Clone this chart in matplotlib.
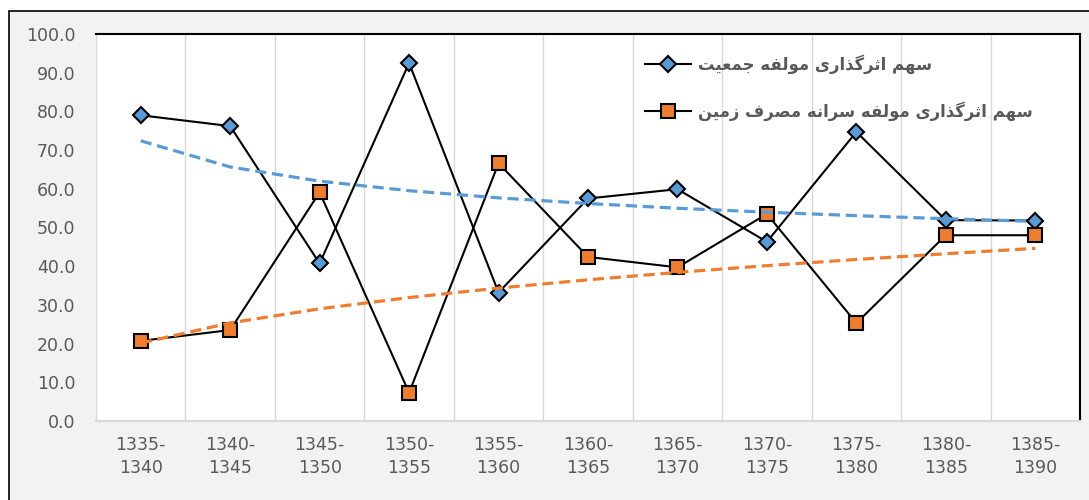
#!/usr/bin/env python3
# -*- coding: utf-8 -*-

import numpy as np
import matplotlib
matplotlib.use('agg')
import matplotlib.pyplot as plt
from matplotlib.patches import Rectangle

periods = ["1335-\n1340", "1340-\n1345", "1345-\n1350", "1350-\n1355",
           "1355-\n1360", "1360-\n1365", "1365-\n1370", "1370-\n1375",
           "1375-\n1380", "1380-\n1385", "1385-\n1390"]
population = [79.0, 76.2, 40.7, 92.5, 33.2, 57.5, 59.9, 46.3, 74.7, 51.9, 51.8]
land_use = [20.7, 23.5, 59.1, 7.3, 66.6, 42.4, 39.7, 53.5, 25.3, 48.0, 48.0]
labels = ["سهم اثرگذاری مولفه جمعیت",
          "سهم اثرگذاری مولفه سرانه مصرف زمین"]
y_ticks = [0, 10, 20, 30, 40, 50, 60, 70, 80, 90, 100]

# Arabic presentation forms: isolated, final, initial, medial
FORMS = {
    'ا': (0xFE8D, 0xFE8E, None, None),
    'ت': (0xFE95, 0xFE96, 0xFE97, 0xFE98),
    'ث': (0xFE99, 0xFE9A, 0xFE9B, 0xFE9C),
    'ج': (0xFE9D, 0xFE9E, 0xFE9F, 0xFEA0),
    'ذ': (0xFEAB, 0xFEAC, None, None),
    'ر': (0xFEAD, 0xFEAE, None, None),
    'ز': (0xFEAF, 0xFEB0, None, None),
    'س': (0xFEB1, 0xFEB2, 0xFEB3, 0xFEB4),
    'ص': (0xFEB9, 0xFEBA, 0xFEBB, 0xFEBC),
    'ع': (0xFEC9, 0xFECA, 0xFECB, 0xFECC),
    'ف': (0xFED1, 0xFED2, 0xFED3, 0xFED4),
    'ل': (0xFEDD, 0xFEDE, 0xFEDF, 0xFEE0),
    'م': (0xFEE1, 0xFEE2, 0xFEE3, 0xFEE4),
    'ن': (0xFEE5, 0xFEE6, 0xFEE7, 0xFEE8),
    'ه': (0xFEE9, 0xFEEA, 0xFEEB, 0xFEEC),
    'و': (0xFEED, 0xFEEE, None, None),
    'گ': (0xFB92, 0xFB93, 0xFB94, 0xFB95),
    'ی': (0xFBFC, 0xFBFD, 0xFBFE, 0xFBFF),
}
RIGHT_ONLY = set('اذرزو')


def shape_rtl(text):
    # matplotlib has no text shaping, so join letters by hand
    out = []
    for i, ch in enumerate(text):
        if ch not in FORMS:
            out.append(ch)
            continue
        prev = text[i - 1] if i > 0 else ''
        nxt = text[i + 1] if i < len(text) - 1 else ''
        join_prev = prev in FORMS and prev not in RIGHT_ONLY
        join_next = ch not in RIGHT_ONLY and nxt in FORMS
        iso, fin, ini, med = FORMS[ch]
        if join_prev and join_next:
            code = med
        elif join_prev:
            code = fin
        elif join_next:
            code = ini
        else:
            code = iso
        out.append(chr(code))
    return ''.join(reversed(out))


def power_trend(x, y):
    b, a = np.polyfit(np.log(x), np.log(y), 1)
    return np.exp(a) * x ** b


x = np.arange(1, len(periods) + 1)
text_color = '#595959'

fig = plt.figure(figsize=(10.89, 5.0), dpi=100)
fig.patch.set_facecolor('white')
fig.patches.append(Rectangle((9 / 1089, -0.1), 1.2, 1 - 11 / 500 + 0.1,
                             transform=fig.transFigure, facecolor='#f2f2f2',
                             edgecolor='black', linewidth=1.2, zorder=-1))

ax = fig.add_axes((96 / 1089, 79 / 500, 984 / 1089, 387 / 500))
ax.set_facecolor('white')

ax.plot(x, population, color='black', linewidth=1.5, marker='D',
        markersize=8, markerfacecolor='#5b9bd5', markeredgecolor='black',
        markeredgewidth=1.5, zorder=3, label=shape_rtl(labels[0]))
ax.plot(x, land_use, color='black', linewidth=1.5, marker='s',
        markersize=10, markerfacecolor='#ed7d31', markeredgecolor='black',
        markeredgewidth=1.5, zorder=3, label=shape_rtl(labels[1]))

ax.plot(x, power_trend(x, population), color='#5b9bd5', linewidth=2.3,
        linestyle=(0, (3.5, 1.8)), zorder=4)
ax.plot(x, power_trend(x, land_use), color='#ed7d31', linewidth=2.3,
        linestyle=(0, (3.5, 1.8)), zorder=4)

ax.set_xlim(0.5, len(periods) + 0.5)
ax.set_ylim(0, 100)
ax.set_yticks(y_ticks)
ax.set_yticklabels(["%.1f" % v for v in y_ticks])
ax.set_xticks(x)
ax.set_xticklabels(periods, linespacing=1.35)

# Vertical grid between categories
ax.set_xticks(np.arange(0.5, len(periods) + 1), minor=True)
ax.grid(True, which='minor', axis='x', color='#d9d9d9', linewidth=1.0)
ax.tick_params(which='both', length=0)
ax.tick_params(axis='y', labelsize=12.5, labelcolor=text_color, pad=15)
ax.tick_params(axis='x', labelsize=12.5, labelcolor=text_color, pad=11)

ax.spines['left'].set_color('#d9d9d9')
ax.spines['bottom'].set_color('#d9d9d9')
ax.spines['bottom'].set_linewidth(1.5)
ax.spines['top'].set_color('black')
ax.spines['top'].set_linewidth(1.5)
ax.spines['right'].set_color('black')
ax.spines['right'].set_linewidth(1.5)

leg = ax.legend(loc='upper left', bbox_to_anchor=(0.558, 0.948),
                frameon=False, prop={'size': 11.9, 'weight': 'bold'},
                handlelength=2.8, handletextpad=0.4, labelspacing=1.65,
                borderpad=0, borderaxespad=0)
for t in leg.get_texts():
    t.set_color(text_color)

plt.savefig('out.png', dpi=100)
